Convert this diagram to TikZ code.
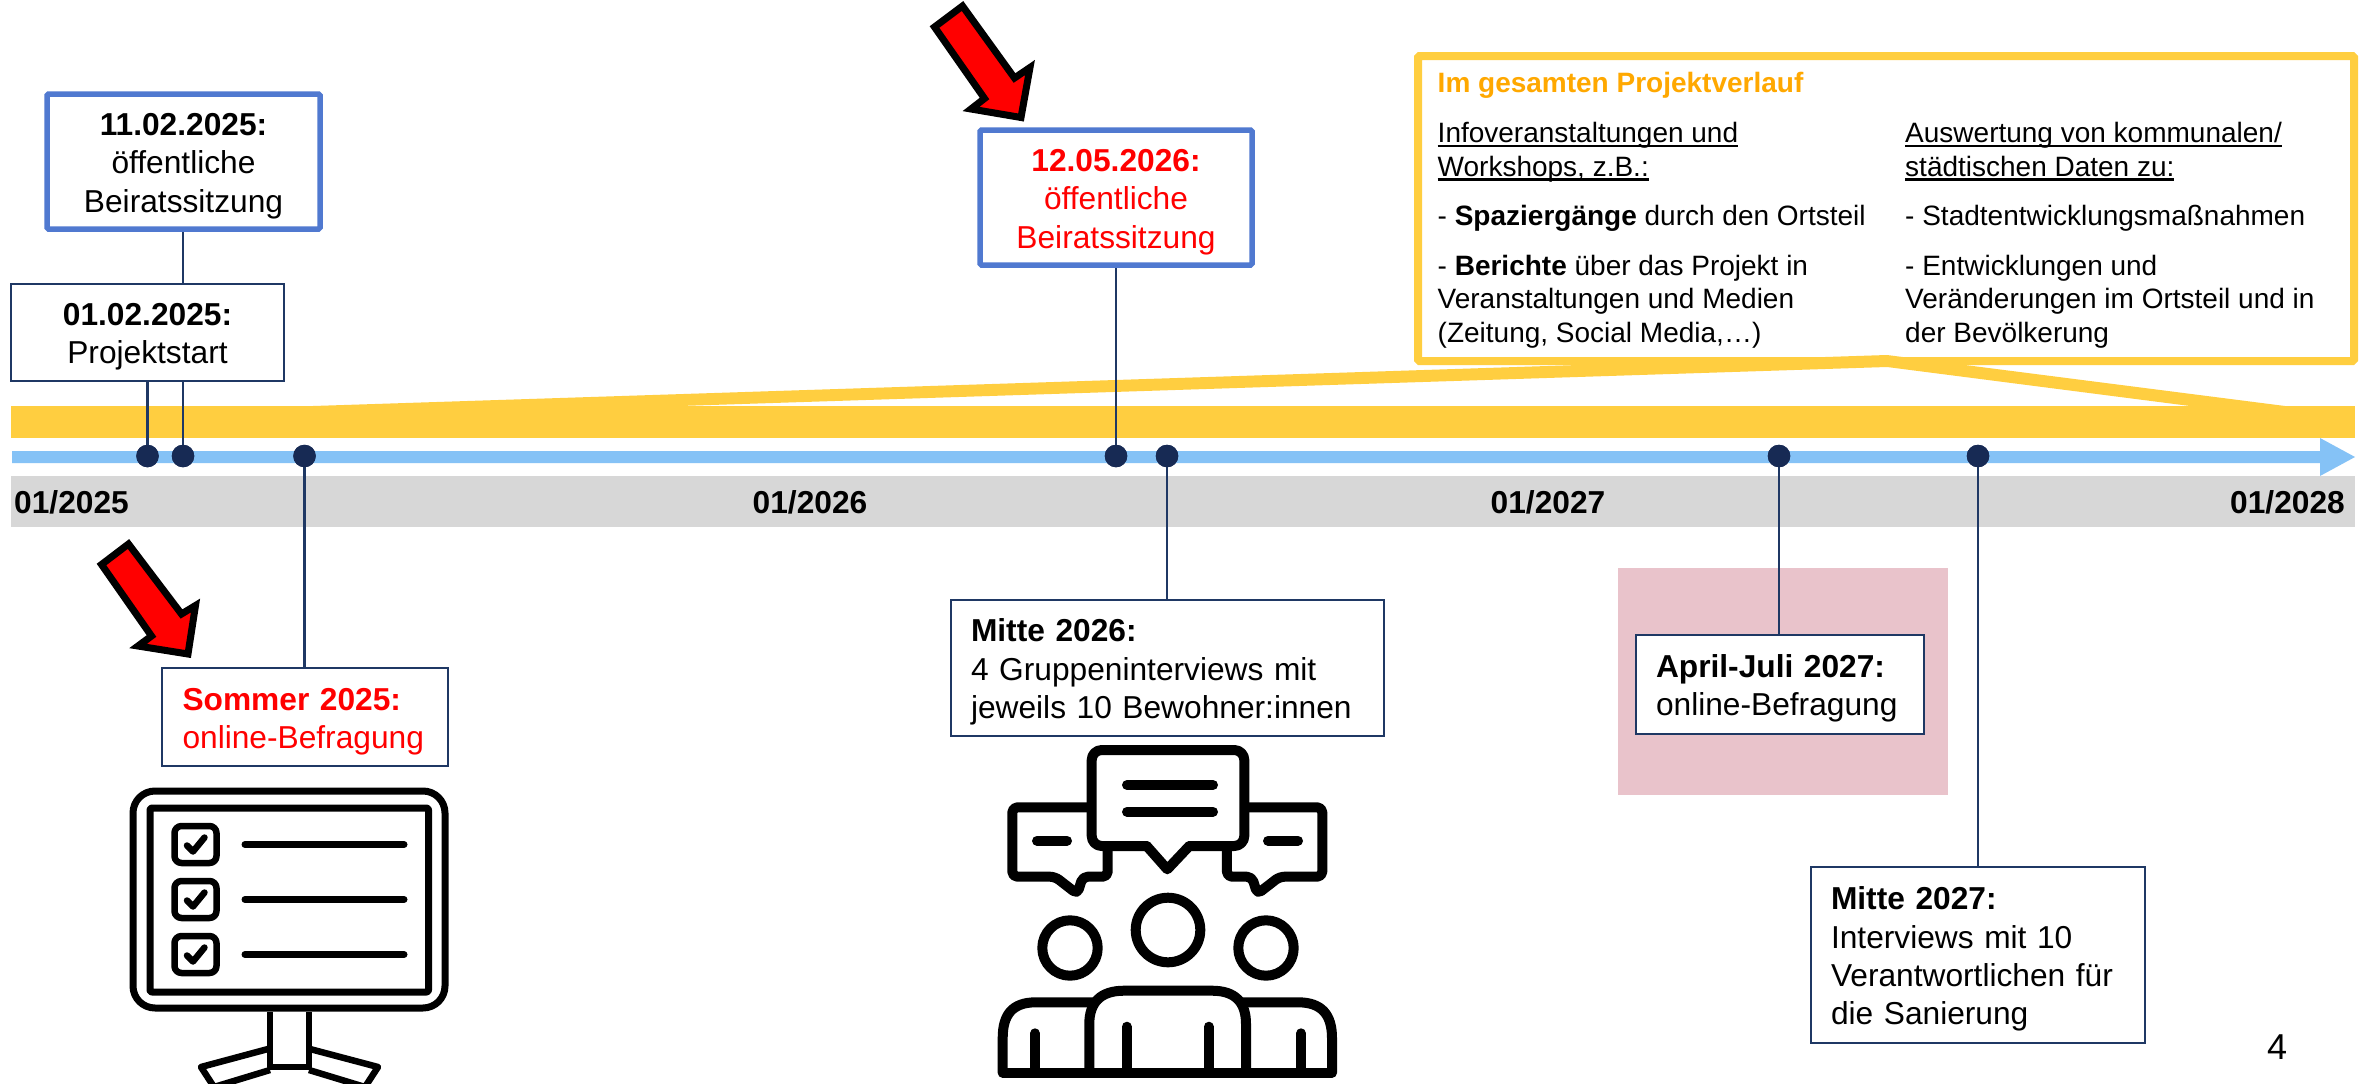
\documentclass[tikz,border=0pt]{standalone}
\usepackage{fontspec}
\setmainfont{Liberation Sans}
\definecolor{bandy}{HTML}{FFCE40}
\definecolor{axisb}{HTML}{85C2F6}
\definecolor{grayb}{HTML}{D7D7D7}
\definecolor{pinkb}{HTML}{E9C3CB}
\definecolor{navy}{HTML}{1F3864}
\definecolor{dotn}{HTML}{172A54}
\definecolor{boxb}{HTML}{5079D0}
\definecolor{titleo}{HTML}{FFA800}
\newcommand\mainsize{\fontsize{31.7}{38.4}\selectfont}
\newcommand\smallsize{\fontsize{28}{33.7}\selectfont}
\newcommand\ulin[1]{\setbox0=\hbox{#1}\rlap{\rule[-4.5pt]{\wd0}{2.2pt}}\box0}
\newcommand\topstrut{\rule{0pt}{31pt}}
\tikzset{
  tbox/.style={draw=navy,line width=2pt,fill=white,inner sep=0pt,font=\mainsize},
  bluebox/.style={draw=boxb,line width=5.5pt,fill=white,inner sep=0pt,font=\mainsize,rounded corners=1.5pt},
  evdot/.style={circle,fill=dotn,inner sep=0pt,minimum size=22.5pt},
  conn/.style={draw=navy,line width=2.6pt},
  datelab/.style={font=\mainsize\bfseries,inner sep=0pt},
  redarrow/.style={fill=red,draw=black,line width=7pt,miter limit=10},
  ic/.style={draw=black,line width=7pt,line join=round},
  ip/.style={draw=black,line width=10pt,line join=round,line cap=round},
  coltext/.style={font=\smallsize,inner sep=0pt,align=left,anchor=north west}
}
\begin{document}
\begin{tikzpicture}[x=1pt,y=-1pt]
\clip (0,0) rectangle (2364,1084);
\fill[white] (0,0) rectangle (2364,1084);
% bands
\fill[grayb] (11,476) rectangle (2355,527);
\fill[bandy] (11,406) rectangle (2355,438);
\fill[axisb] (12,451) -- (2320,451) -- (2320,438) -- (2355,457) -- (2320,476) -- (2320,463) -- (12,463) -- cycle;
\fill[pinkb] (1618,568) rectangle (1948,795);
% dots
\node[evdot] (d1) at (147.5,456) {};
\node[evdot] (d2) at (183,456) {};
\node[evdot] (d3) at (304.5,456) {};
\node[evdot] (d4) at (1116,456) {};
\node[evdot] (d5) at (1167,456) {};
\node[evdot] (d6) at (1779,456) {};
\node[evdot] (d7) at (1978,456) {};
% callout
\node[draw=bandy,line width=8pt,fill=white,minimum width=936pt,minimum height=305pt,inner sep=0pt,rounded corners=1.5pt] (info) at (1886,208.5) {};
\fill[bandy] (313,406) -- (1887,355) -- (2285,406) -- (2190,406) -- (1887,367) -- (680,406) -- cycle;
\node[font=\smallsize\bfseries,text=titleo,inner sep=0pt,anchor=base west] (infot) at (1437.5,92) {Im gesamten Projektverlauf};
\node[coltext] (infol) at (1437.5,122) {\ulin{Infoveranstaltungen und}\\\ulin{Workshops, z.B.:}\\[16pt]- \textbf{Spaziergänge} durch den Ortsteil\\[15.5pt]- \textbf{Berichte} über das Projekt in\\Veranstaltungen und Medien\\(Zeitung, Social Media,…)};
\node[coltext] (infor) at (1905,122) {\ulin{Auswertung von kommunalen/}\\\ulin{städtischen Daten zu:}\\[16pt]- Stadtentwicklungsmaßnahmen\\[15.5pt]- Entwicklungen und\\Veränderungen im Ortsteil und in\\der Bevölkerung};
% boxes
\node[bluebox,minimum width=273pt,minimum height=135pt,align=center,text width=265pt] (b1) at (183.5,161.5) {\topstrut\textbf{11.02.2025:}\\öffentliche\\Beiratssitzung};
\draw[conn] (d2) -- (d2 |- b1.south);
\node[tbox,minimum width=273pt,minimum height=97pt,align=center,text width=265pt] (b2) at (147.5,332.5) {\topstrut\textbf{01.02.2025:}\\Projektstart};
\draw[conn] (d1) -- (d1 |- b2.south);
\node[tbox,minimum width=286pt,minimum height=98pt,align=left,text width=245pt] (b3) at (305,717) {\topstrut\color{red}\textbf{Sommer 2025:}\\online-Befragung};
\draw[conn] (d3) -- (d3 |- b3.north);
\node[bluebox,minimum width=272pt,minimum height=135pt,align=center,text width=265pt,text=red] (b4) at (1116,197.5) {\topstrut\textbf{12.05.2026:}\\öffentliche\\Beiratssitzung};
\draw[conn] (d4) -- (d4 |- b4.south);
\node[tbox,minimum width=433pt,minimum height=136pt,align=left,text width=393pt] (b5) at (1167.5,668) {\topstrut\textbf{Mitte 2026:}\\4 Gruppeninterviews mit\\jeweils 10 Bewohner:innen};
\draw[conn] (d5) -- (d5 |- b5.north);
\node[tbox,minimum width=288pt,minimum height=99pt,align=left,text width=248pt] (b6) at (1780,684.5) {\topstrut\textbf{April-Juli 2027:}\\online-Befragung};
\draw[conn] (d6) -- (d6 |- b6.north);
\node[tbox,minimum width=334pt,minimum height=176pt,align=left,text width=294pt] (b7) at (1978,955) {\topstrut\textbf{Mitte 2027:}\\Interviews mit 10\\Verantwortlichen für\\die Sanierung};
\draw[conn] (d7) -- (d7 |- b7.north);
% redraw dots above connectors
\node[evdot] at (d1) {};\node[evdot] at (d2) {};\node[evdot] at (d3) {};\node[evdot] at (d4) {};\node[evdot] at (d5) {};\node[evdot] at (d6) {};\node[evdot] at (d7) {};
% date labels
\node[datelab,anchor=base west] (y1) at (14,513) {01/2025};
\node[datelab,anchor=base] (y2) at (810,513) {01/2026};
\node[datelab,anchor=base] (y3) at (1548,513) {01/2027};
\node[datelab,anchor=base east] (y4) at (2345,513) {01/2028};
\node[font=\fontsize{36}{40}\selectfont,inner sep=0pt,anchor=base] (pg) at (2277,1059) {4};
% red arrows
\draw[redarrow] (128.5,544) -- (101.5,564.5) -- (151.5,636) -- (138,646) -- (188,654) -- (195.5,605.5) -- (181.5,614) -- cycle;
\draw[redarrow] (962.5,6) -- (934.5,27) -- (984.5,98.5) -- (971,109) -- (1021,117.5) -- (1030,67.5) -- (1014.5,78) -- cycle;
% monitor icon
\draw[ic,rounded corners=22pt] (133,791) rectangle (445,1008);
\draw[ic,rounded corners=2pt] (150,808) rectangle (428.5,992);
\foreach \yy in {844.5,899.5,954.5}{
  \draw[ic,line width=6.5pt,rounded corners=7pt] (174.5,\yy-18.5) rectangle (216.5,\yy+18.5);
  \draw[draw=black,line width=6.5pt,line cap=round,line join=round] (187,\yy+1) -- (193,\yy+7) -- (204.5,\yy-7);
  \draw[ic,line cap=round] (245,\yy) -- (404,\yy);
}
\draw[ic,line width=6.5pt] (270,1012) -- (270,1067) -- (309,1067) -- (309,1012);
\draw[ic,line width=6.5pt] (268,1049) -- (201,1067) -- (214,1087) -- (270,1070);
\draw[ic,line width=6.5pt] (310,1049) -- (378,1067) -- (365,1087) -- (309,1070);
% group icon
\draw[ip,rounded corners=10pt] (1146.7,846) -- (1091.7,846) -- (1091.7,750) -- (1244.3,750) -- (1244.3,846) -- (1189.3,846);
\draw[ip] (1146.7,846) -- (1167.3,869.3) -- (1189.3,846);
\draw[ip] (1127,785) -- (1213,785) (1127,811.7) -- (1213,811.7);
\draw[ip,rounded corners=5pt,line cap=butt] (1091.7,807.3) -- (1012.3,807.3) -- (1012.3,876.7) -- (1055,876.7) -- (1077.3,894) -- (1082.7,876.7) -- (1107.7,876.7) -- (1107.7,851);
\draw[ip,rounded corners=5pt,line cap=butt] (1244.3,807.3) -- (1322.3,807.3) -- (1322.3,876.7) -- (1279.6,876.7) -- (1257.3,894) -- (1251.9,876.7) -- (1226.9,876.7) -- (1226.9,851);
\draw[ip] (1037,840.7) -- (1067,840.7) (1268,840.7) -- (1298,840.7);
\draw[ip] (1168,930) circle (32.3);
\draw[ip] (1070,948) circle (27.7);
\draw[ip] (1266,948) circle (27.7);
\draw[ip] (1002.7,1072.7) -- (1332,1072.7);
\draw[ip,line cap=butt] (1002.7,1072.7) -- (1002.7,1038) .. controls (1002.7,1015) and (1012,1002.3) .. (1036,1002.3) -- (1093.3,1002.3);
\draw[ip,line cap=butt] (1332,1072.7) -- (1332,1038) .. controls (1332,1015) and (1322,1002.3) .. (1298,1002.3) -- (1242,1002.3);
\draw[ip,line cap=butt] (1089.3,1072.7) -- (1089.3,1024) .. controls (1089.3,1003) and (1100,990.7) .. (1124,990.7) -- (1212,990.7) .. controls (1236,990.7) and (1246,1003) .. (1246,1024) -- (1246,1072.7);
\draw[ip] (1035,1033.3) -- (1035,1072.7) (1126.7,1026.7) -- (1126.7,1072.7) (1208.7,1026.7) -- (1208.7,1072.7) (1301,1033.3) -- (1301,1072.7);
\end{tikzpicture}
\end{document}
